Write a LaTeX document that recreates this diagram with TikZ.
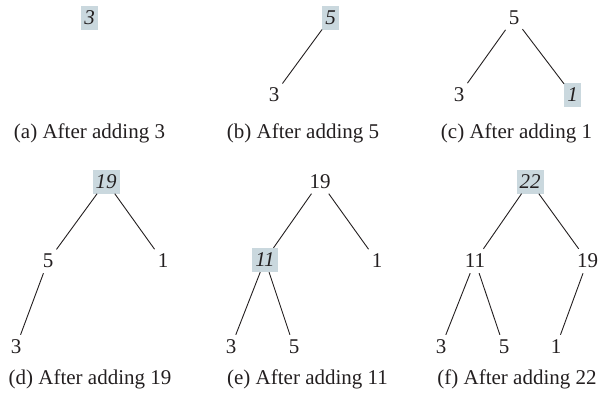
\documentclass[tikz,border=0pt]{standalone}
\usepackage{fontspec}
\setmainfont{Liberation Serif}
\definecolor{hl}{RGB}{202,216,222}
\definecolor{ink}{RGB}{35,31,32}
\begin{document}
\begin{tikzpicture}[x=1pt,y=-1pt,
  every node/.style={font=\fontsize{21}{25}\selectfont, text=ink},
  nd/.style={rectangle, inner xsep=3pt, inner ysep=0pt, minimum height=24pt},
  hnode/.style={nd, fill=hl, font=\fontsize{21}{25}\selectfont\itshape},
  captext/.style={anchor=base},
  edge/.style={draw=ink, line width=0.9pt}]
\useasboundingbox (0,0) rectangle (598,392);
% (a)
\node[hnode] (a1) at (89.5,18) {3};
\node[captext] (ca) at (89.5,138) {(a) After adding 3};
% (b)
\node[hnode] (b1) at (330.5,18) {5};
\node[nd] (b2) at (274,95) {3};
\draw[edge] (b1) -- (b2);
\node[captext] (cb) at (303,138) {(b) After adding 5};
% (c)
\node[nd] (c1) at (514,18) {5};
\node[nd] (c2) at (459,95) {3};
\node[hnode] (c3) at (572.5,95) {1};
\draw[edge] (c1) -- (c2);
\draw[edge] (c1) -- (c3);
\node[captext] (cc) at (516.5,138) {(c) After adding 1};
% (d)
\node[hnode] (d1) at (106,181.5) {19};
\node[nd] (d2) at (48,261) {5};
\node[nd] (d3) at (163,261) {1};
\node[nd] (d4) at (16,347) {3};
\draw[edge] (d1) -- (d2);
\draw[edge] (d1) -- (d3);
\draw[edge] (d2) -- (d4);
\node[captext] (cd) at (90,384) {(d) After adding 19};
% (e)
\node[nd] (e1) at (320,181.5) {19};
\node[hnode] (e2) at (265,260) {11};
\node[nd] (e3) at (377,261) {1};
\node[nd] (e4) at (231,347) {3};
\node[nd] (e5) at (294,347) {5};
\draw[edge] (e1) -- (e2);
\draw[edge] (e1) -- (e3);
\draw[edge] (e2) -- (e4);
\draw[edge] (e2) -- (e5);
\node[captext] (ce) at (307.5,384) {(e) After adding 11};
% (f)
\node[hnode] (f1) at (530,181.5) {22};
\node[nd] (f2) at (475,261) {11};
\node[nd] (f3) at (587.5,261) {19};
\node[nd] (f4) at (441,347) {3};
\node[nd] (f5) at (504,347) {5};
\node[nd] (f6) at (556,347) {1};
\draw[edge] (f1) -- (f2);
\draw[edge] (f1) -- (f3);
\draw[edge] (f2) -- (f4);
\draw[edge] (f2) -- (f5);
\draw[edge] (f3) -- (f6);
\node[captext] (cf) at (517,384) {(f) After adding 22};
\end{tikzpicture}
\end{document}
